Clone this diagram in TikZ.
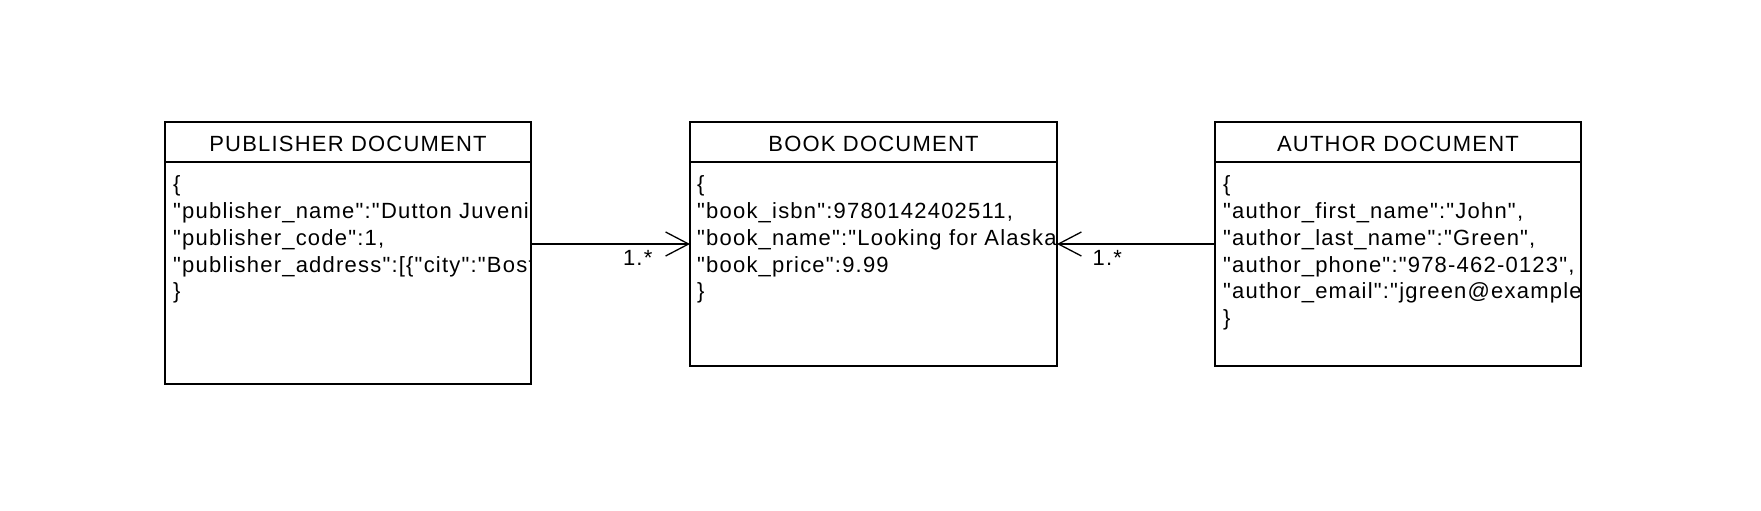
\documentclass[tikz,border=0pt]{standalone}
\usepackage{fontspec}
\setmainfont{Liberation Sans}[Ligatures=TeXOff, LetterSpace=5.5]
\usetikzlibrary{arrows.meta}
\begin{document}
\begin{tikzpicture}[x=1pt,y=-1pt,
  box/.style={draw, line width=1.3pt, rectangle, anchor=north west, inner sep=0pt, outer sep=0pt, minimum width=366pt},
  title/.style={anchor=base, inner sep=0pt, font=\fontsize{22pt}{26pt}\selectfont},
  body/.style={anchor=base west, inner sep=0pt, font=\fontsize{22pt}{26pt}\selectfont},
  conn/.style={line width=1.3pt, -{Straight Barb[length=23pt,width=24pt,line width=1.3pt]}},
  mult/.style={inner sep=0pt, font=\fontsize{22pt}{26pt}\selectfont}]
\useasboundingbox[fill=white] (0,0) rectangle (1761,511);

% boxes
\node[box, minimum height=262pt] (pub) at (165,122) {};
\node[box, minimum height=244pt, minimum width=367pt] (book) at (690,122) {};
\node[box, minimum height=244pt] (auth) at (1215,122) {};

% header separators
\foreach \b in {pub,book,auth}{
  \draw[line width=1.3pt] ([yshift=-40pt]\b.north west) -- ([yshift=-40pt]\b.north east);
}

% titles
\node[title] (pubT) at ([yshift=-29pt]pub.north) {PUBLISHER DOCUMENT};
\node[title] (bookT) at ([yshift=-29pt]book.north) {BOOK DOCUMENT};
\node[title] (authT) at ([yshift=-29pt]auth.north) {AUTHOR DOCUMENT};

% publisher body
\begin{scope}
\clip (pub.north west) rectangle (pub.south east);
\node[body] (p1) at ([shift={(8,69)}]pub.north west) {\{};
\node[body] (p2) at ([shift={(8,96)}]pub.north west) {"publisher\_name":"Dutton Juvenile",};
\node[body] (p3) at ([shift={(8,123)}]pub.north west) {"publisher\_code":1,};
\node[body] (p4) at ([shift={(8,150)}]pub.north west) {"publisher\_address":[\{"city":"Boston"\}]};
\node[body] (p5) at ([shift={(8,176)}]pub.north west) {\}};
\end{scope}

% book body
\begin{scope}
\clip (book.north west) rectangle (book.south east);
\node[body] (b1) at ([shift={(7,69)}]book.north west) {\{};
\node[body] (b2) at ([shift={(7,96)}]book.north west) {"book\_isbn":9780142402511,};
\node[body] (b3) at ([shift={(7,123)}]book.north west) {"book\_name":"Looking for Alaska",};
\node[body] (b4) at ([shift={(7,150)}]book.north west) {"book\_price":9.99};
\node[body] (b5) at ([shift={(7,176)}]book.north west) {\}};
\end{scope}

% author body
\begin{scope}
\clip (auth.north west) rectangle (auth.south east);
\node[body] (a1) at ([shift={(8,69)}]auth.north west) {\{};
\node[body] (a2) at ([shift={(8,96)}]auth.north west) {"author\_first\_name":"John",};
\node[body] (a3) at ([shift={(8,123)}]auth.north west) {"author\_last\_name":"Green",};
\node[body] (a4) at ([shift={(8,150)}]auth.north west) {"author\_phone":"978-462-0123",};
\node[body] (a5) at ([shift={(8,176)}]auth.north west) {"author\_email":"jgreen@example.com"};
\node[body] (a6) at ([shift={(8,203)}]auth.north west) {\}};
\end{scope}

% connectors
\draw[conn] (pub.east |- book.west) -- (book.west)
  node[mult, at end, anchor=north east, xshift=-37pt, yshift=-6pt] (m1) {1.*};
\draw[conn] (auth.west) -- (book.east)
  node[mult, at end, anchor=north west, xshift=35pt, yshift=-6pt] (m2) {1.*};
\end{tikzpicture}
\end{document}
